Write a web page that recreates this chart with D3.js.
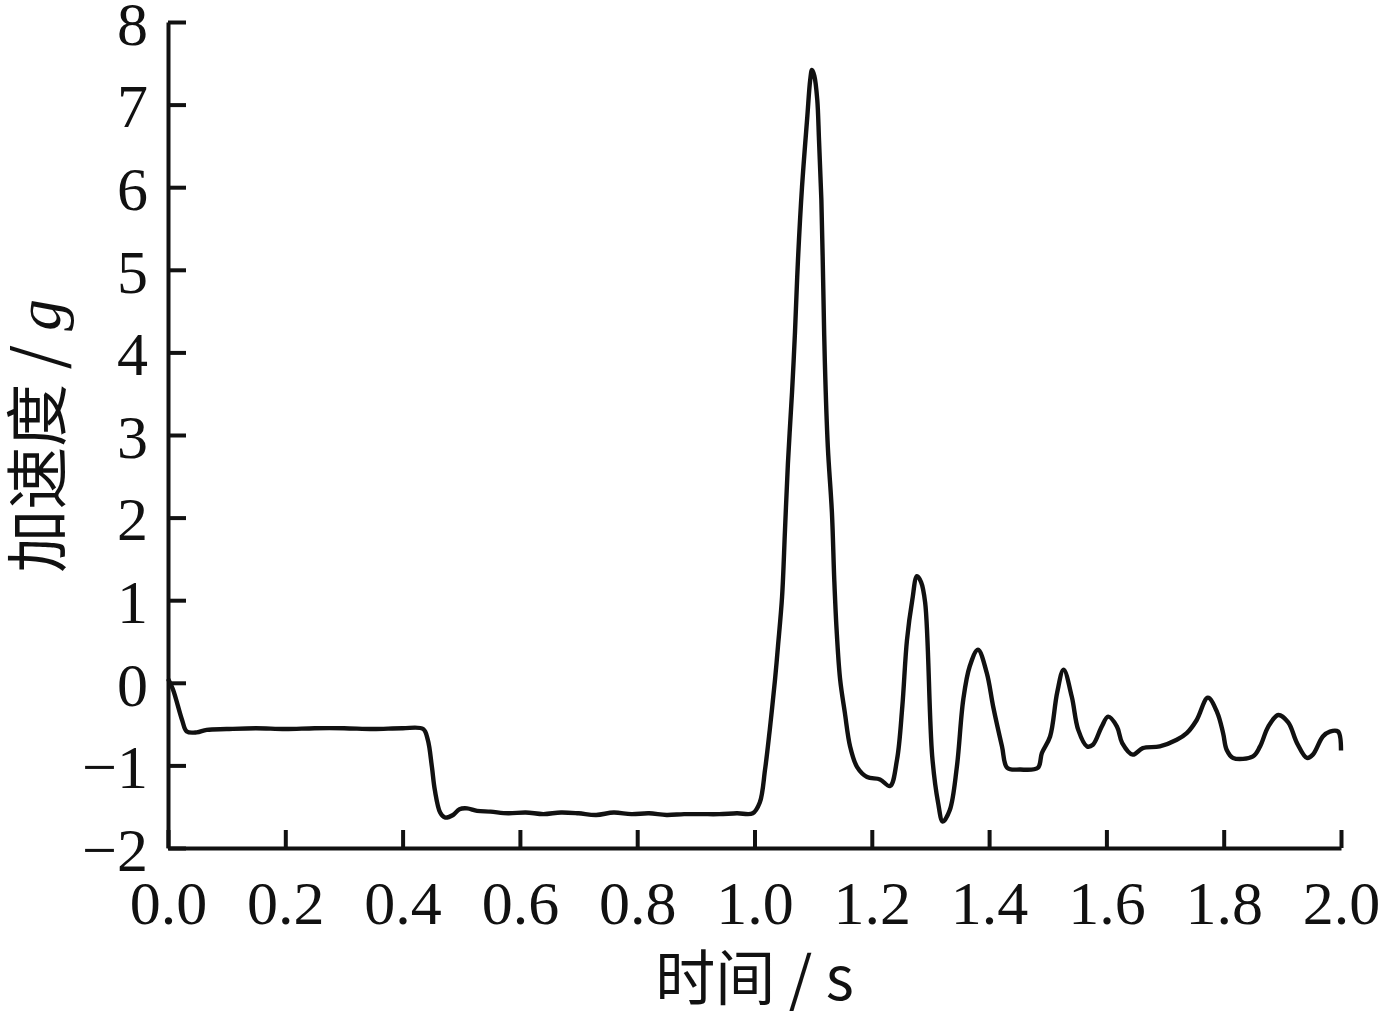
<!DOCTYPE html>
<html>
<head>
<meta charset="utf-8">
<script src="https://cdn.jsdelivr.net/npm/d3@7"></script>
<style>
  html, body { margin: 0; padding: 0; background: #fff; }
  svg { display: block; }
  .tick text { font-family: "Liberation Serif", "Times New Roman", serif; font-size: 62px; fill: #111; }
  .axis path, .axis line { stroke: #111; stroke-width: 4; }
</style>
</head>
<body>
<div id="chart"></div>
<script>
// acceleration trace (time in s, acceleration in g)
var timeS = [
  0.000, 0.0085, 0.024, 0.032, 0.049, 0.066, 0.10, 0.15, 0.20, 0.25, 0.30, 0.35, 0.40, 0.435,
  0.443, 0.450, 0.455, 0.464, 0.472, 0.486, 0.497, 0.510, 0.527, 0.55, 0.58, 0.61, 0.64, 0.67,
  0.70, 0.73, 0.76, 0.79, 0.82, 0.85, 0.88, 0.91, 0.94, 0.97, 0.997,
  1.009, 1.018, 1.026, 1.035, 1.040, 1.047, 1.052, 1.057, 1.064, 1.069, 1.074, 1.081,
  1.090, 1.095, 1.098, 1.102, 1.107, 1.110, 1.114, 1.117, 1.120, 1.125, 1.132, 1.136,
  1.140, 1.146, 1.154, 1.163, 1.175, 1.192, 1.214, 1.231,
  1.243, 1.252, 1.260, 1.269, 1.277, 1.284, 1.291, 1.303, 1.313, 1.321, 1.333, 1.345,
  1.356, 1.367, 1.381, 1.396, 1.407, 1.422, 1.431, 1.453, 1.483, 1.490, 1.504, 1.516, 1.527,
  1.541, 1.552, 1.567, 1.577, 1.592, 1.603, 1.618, 1.627, 1.645, 1.662, 1.691, 1.720, 1.737,
  1.754, 1.773, 1.789, 1.799, 1.805, 1.816, 1.850, 1.862, 1.876, 1.893, 1.910, 1.925, 1.942,
  1.952, 1.969, 1.981, 1.995, 2.000
];
var accelG = [
  0.05, -0.08, -0.45, -0.59, -0.60, -0.57, -0.56, -0.55, -0.56, -0.55, -0.55, -0.56, -0.55, -0.56,
  -0.69, -1.02, -1.30, -1.57, -1.63, -1.60, -1.53, -1.52, -1.55, -1.56, -1.58, -1.57, -1.59, -1.57,
  -1.58, -1.60, -1.57, -1.59, -1.58, -1.60, -1.59, -1.59, -1.59, -1.58, -1.58,
  -1.45, -1.05, -0.57, 0.04, 0.44, 1.04, 1.85, 2.66, 3.52, 4.24, 5.10, 6.00,
  6.85, 7.30, 7.42, 7.35, 7.06, 6.57, 5.85, 4.88, 3.87, 2.86, 2.06, 1.25,
  0.64, 0.04, -0.36, -0.77, -1.02, -1.14, -1.17, -1.25,
  -0.93, -0.29, 0.52, 1.00, 1.29, 1.22, 0.97, -0.89, -1.45, -1.68, -1.54, -1.02,
  -0.20, 0.20, 0.40, 0.12, -0.29, -0.77, -1.03, -1.05, -1.03, -0.85, -0.65, -0.12, 0.16,
  -0.17, -0.57, -0.77, -0.75, -0.53, -0.41, -0.53, -0.73, -0.87, -0.79, -0.77, -0.69, -0.61,
  -0.45, -0.18, -0.36, -0.61, -0.81, -0.91, -0.89, -0.77, -0.53, -0.39, -0.48, -0.73, -0.91,
  -0.87, -0.65, -0.59, -0.59, -0.82
];
var xTicks = [0, 0.2, 0.4, 0.6, 0.8, 1.0, 1.2, 1.4, 1.6, 1.8, 2.0];
var yTicks = [-2, -1, 0, 1, 2, 3, 4, 5, 6, 7, 8];
var xTitle = "时间 / s";
var yTitle = "加速度 / ";
var yUnit = "g";

var width = 1379, height = 1015;
var margin = {top: 22, right: 38, bottom: 167, left: 168};

var svg = d3.select("#chart").append("svg")
  .attr("width", width)
  .attr("height", height);

var x = d3.scaleLinear().domain([0, 2]).range([margin.left, width - margin.right]);
var y = d3.scaleLinear().domain([-2, 8]).range([height - margin.bottom, margin.top]);

// axes with inward ticks
svg.append("g")
  .attr("class", "axis")
  .attr("transform", "translate(0," + y(-2) + ")")
  .call(d3.axisBottom(x).tickValues(xTicks).tickSize(-18).tickSizeOuter(0).tickPadding(32)
    .tickFormat(d3.format(".1f")));

var yAxis = svg.append("g")
  .attr("class", "axis")
  .attr("transform", "translate(" + x(0) + ",0)")
  .call(d3.axisLeft(y).tickValues(yTicks).tickSize(-18).tickSizeOuter(0).tickPadding(20)
    .tickFormat(function(d) { return d < 0 ? "\u2212" + Math.abs(d) : d; }));
yAxis.selectAll(".tick text").attr("dy", "0.36em");

// curve
var pts = timeS.map(function(t, i) { return [t, accelG[i]]; });
var line = d3.line()
  .x(function(d) { return x(d[0]); })
  .y(function(d) { return y(d[1]); })
  .curve(d3.curveCatmullRom.alpha(0.5));

svg.append("path")
  .datum(pts)
  .attr("d", line)
  .attr("fill", "none")
  .attr("stroke", "#111")
  .attr("stroke-width", 4.4)
  .attr("stroke-linejoin", "round");

// axis titles
svg.append("text")
  .attr("x", (x(0) + x(2)) / 2)
  .attr("y", 1000)
  .attr("text-anchor", "middle")
  .style("font-family", "'Noto Sans CJK SC', 'Liberation Serif', serif")
  .style("font-size", "60px")
  .style("fill", "#111")
  .text(xTitle);

var yt = svg.append("text")
  .attr("transform", "translate(60," + 436 + ") rotate(-90)")
  .attr("text-anchor", "middle")
  .style("font-family", "'Noto Sans CJK SC', 'Liberation Serif', serif")
  .style("font-size", "63px")
  .style("fill", "#111");
yt.append("tspan").text(yTitle);
yt.append("tspan")
  .style("font-family", "'Liberation Serif', serif")
  .style("font-style", "italic")
  .text(yUnit);
</script>
</body>
</html>
